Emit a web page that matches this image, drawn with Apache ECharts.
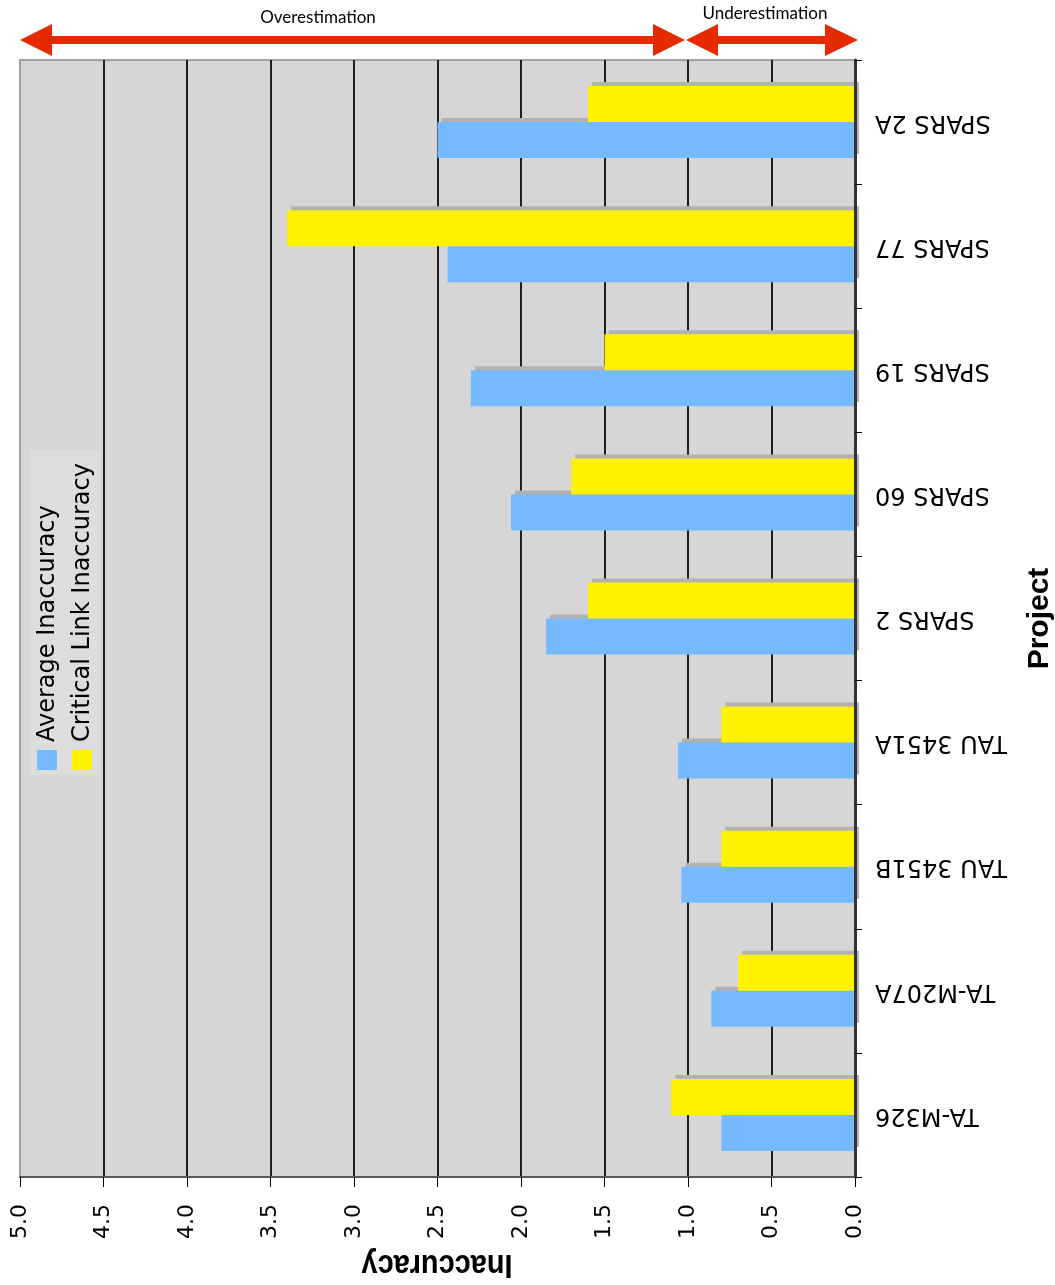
<!DOCTYPE html>
<html>
<head>
    <meta charset="utf-8">
    <title>Inaccuracy by project</title>
    <script src="https://cdn.jsdelivr.net/npm/echarts@6/dist/echarts.min.js"></script>
    <style>
        html, body { margin: 0; padding: 0; background: #fff; }
        #main { width: 1055px; height: 1285px; }
    </style>
</head>
<body>
    <div id="main"></div>
    <script>
    // data
    var projects = ['SPARS 2A', 'SPARS 77', 'SPARS 19', 'SPARS 60', 'SPARS 2',
                    'TAU 3451A', 'TAU 3451B', 'TA-M207A', 'TA-M326'];
    var averageInaccuracy = [2.50, 2.44, 2.30, 2.06, 1.85, 1.06, 1.04, 0.86, 0.80];
    var criticalInaccuracy = [1.60, 3.40, 1.50, 1.70, 1.60, 0.80, 0.80, 0.70, 1.10];
    var seriesNames = ['Average Inaccuracy', 'Critical Link Inaccuracy'];
    var seriesColors = ['#75baff', '#fff200'];

    var myChart = echarts.init(document.getElementById('main'));

    var barShadow = {
        shadowColor: '#b2b2b2',
        shadowBlur: 0,
        shadowOffsetX: 4,
        shadowOffsetY: -4
    };

    var arrowColor = '#e62a00';

    var option = {
        animation: false,
        backgroundColor: '#fff',
        grid: {
            left: 20, right: 200, top: 60, bottom: 108,
            show: true,
            backgroundColor: '#d6d6d6',
            borderColor: '#a0a0a0',
            borderWidth: 2,
            outerBoundsMode: 'none'
        },
        xAxis: {
            type: 'value',
            min: 0, max: 5, interval: 0.5,
            inverse: true,
            position: 'bottom',
            axisLine: { show: true, lineStyle: { color: '#5a5a5a', width: 2 } },
            axisTick: { show: true, length: 10, lineStyle: { color: '#000' } },
            axisLabel: {
                rotate: 90, margin: 27, fontSize: 22, color: '#000',
                fontFamily: 'DejaVu Sans',
                formatter: function (v) { return v.toFixed(1); }
            },
            splitLine: {
                show: true, showMaxLine: false,
                lineStyle: { color: '#1e1e1e', width: 2 }
            }
        },
        yAxis: {
            type: 'category',
            data: projects,
            inverse: true,
            position: 'right',
            z: 5,
            name: 'Project',
            nameLocation: 'middle',
            nameRotate: 90,
            nameGap: 170,
            nameTextStyle: {
                fontFamily: 'Liberation Sans', fontWeight: 'bold',
                fontSize: 30, color: '#000'
            },
            axisLine: { show: true, lineStyle: { color: '#333', width: 3 } },
            axisTick: { show: true, length: 7, lineStyle: { color: '#000' } },
            axisLabel: {
                rotate: 180, margin: 20, fontSize: 24, color: '#000',
                fontFamily: 'DejaVu Sans'
            },
            splitLine: { show: false }
        },
        series: [
            {
                name: seriesNames[1],
                type: 'bar',
                data: criticalInaccuracy,
                barWidth: 36,
                barGap: '0%',
                z: 3,
                itemStyle: Object.assign({ color: seriesColors[1] }, barShadow)
            },
            {
                name: seriesNames[0],
                type: 'bar',
                data: averageInaccuracy,
                barWidth: 36,
                barGap: '0%',
                z: 2,
                itemStyle: Object.assign({ color: seriesColors[0] }, barShadow)
            }
        ],
        graphic: [
            // over / under estimation arrows
            {
                type: 'polygon',
                shape: { points: [[20, 40], [52, 24], [52, 36], [653, 36], [653, 24], [685, 40],
                                  [653, 56], [653, 44], [52, 44], [52, 56]] },
                style: { fill: arrowColor }
            },
            {
                type: 'polygon',
                shape: { points: [[686, 40], [718, 24], [718, 36], [825, 36], [825, 24], [858, 40],
                                  [825, 56], [825, 44], [718, 44], [718, 56]] },
                style: { fill: arrowColor }
            },
            {
                type: 'text', x: 318, y: 18,
                style: { text: 'Overestimation', fontFamily: 'Lato', fontSize: 17,
                         fill: '#000', align: 'center', verticalAlign: 'middle' }
            },
            {
                type: 'text', x: 765, y: 14,
                style: { text: 'Underestimation', fontFamily: 'Lato', fontSize: 17,
                         fill: '#000', align: 'center', verticalAlign: 'middle' }
            },
            // x axis title, upside down and condensed like the original
            {
                type: 'text', x: 437, y: 1264, rotation: Math.PI, scaleX: 0.85,
                style: { text: 'Inaccuracy', fontFamily: 'Liberation Sans', fontWeight: 'bold',
                         fontSize: 34, fill: '#000', align: 'center', verticalAlign: 'middle' }
            },
            // legend, drawn turned on its side
            {
                type: 'rect', z: 10,
                shape: { x: 30, y: 450, width: 70, height: 325 },
                style: { fill: '#dcdddc' }
            },
            {
                type: 'rect', z: 11,
                shape: { x: 37, y: 750, width: 20, height: 20 },
                style: { fill: seriesColors[0] }
            },
            {
                type: 'rect', z: 11,
                shape: { x: 72, y: 750, width: 20, height: 20 },
                style: { fill: seriesColors[1] }
            },
            {
                type: 'text', z: 11, x: 48, y: 742, rotation: Math.PI / 2,
                style: { text: seriesNames[0], fontFamily: 'DejaVu Sans', fontSize: 24,
                         fill: '#000', align: 'left', verticalAlign: 'middle' }
            },
            {
                type: 'text', z: 11, x: 83, y: 742, rotation: Math.PI / 2,
                style: { text: seriesNames[1], fontFamily: 'DejaVu Sans', fontSize: 24,
                         fill: '#000', align: 'left', verticalAlign: 'middle' }
            }
        ]
    };

    myChart.setOption(option);
    </script>
</body>
</html>
